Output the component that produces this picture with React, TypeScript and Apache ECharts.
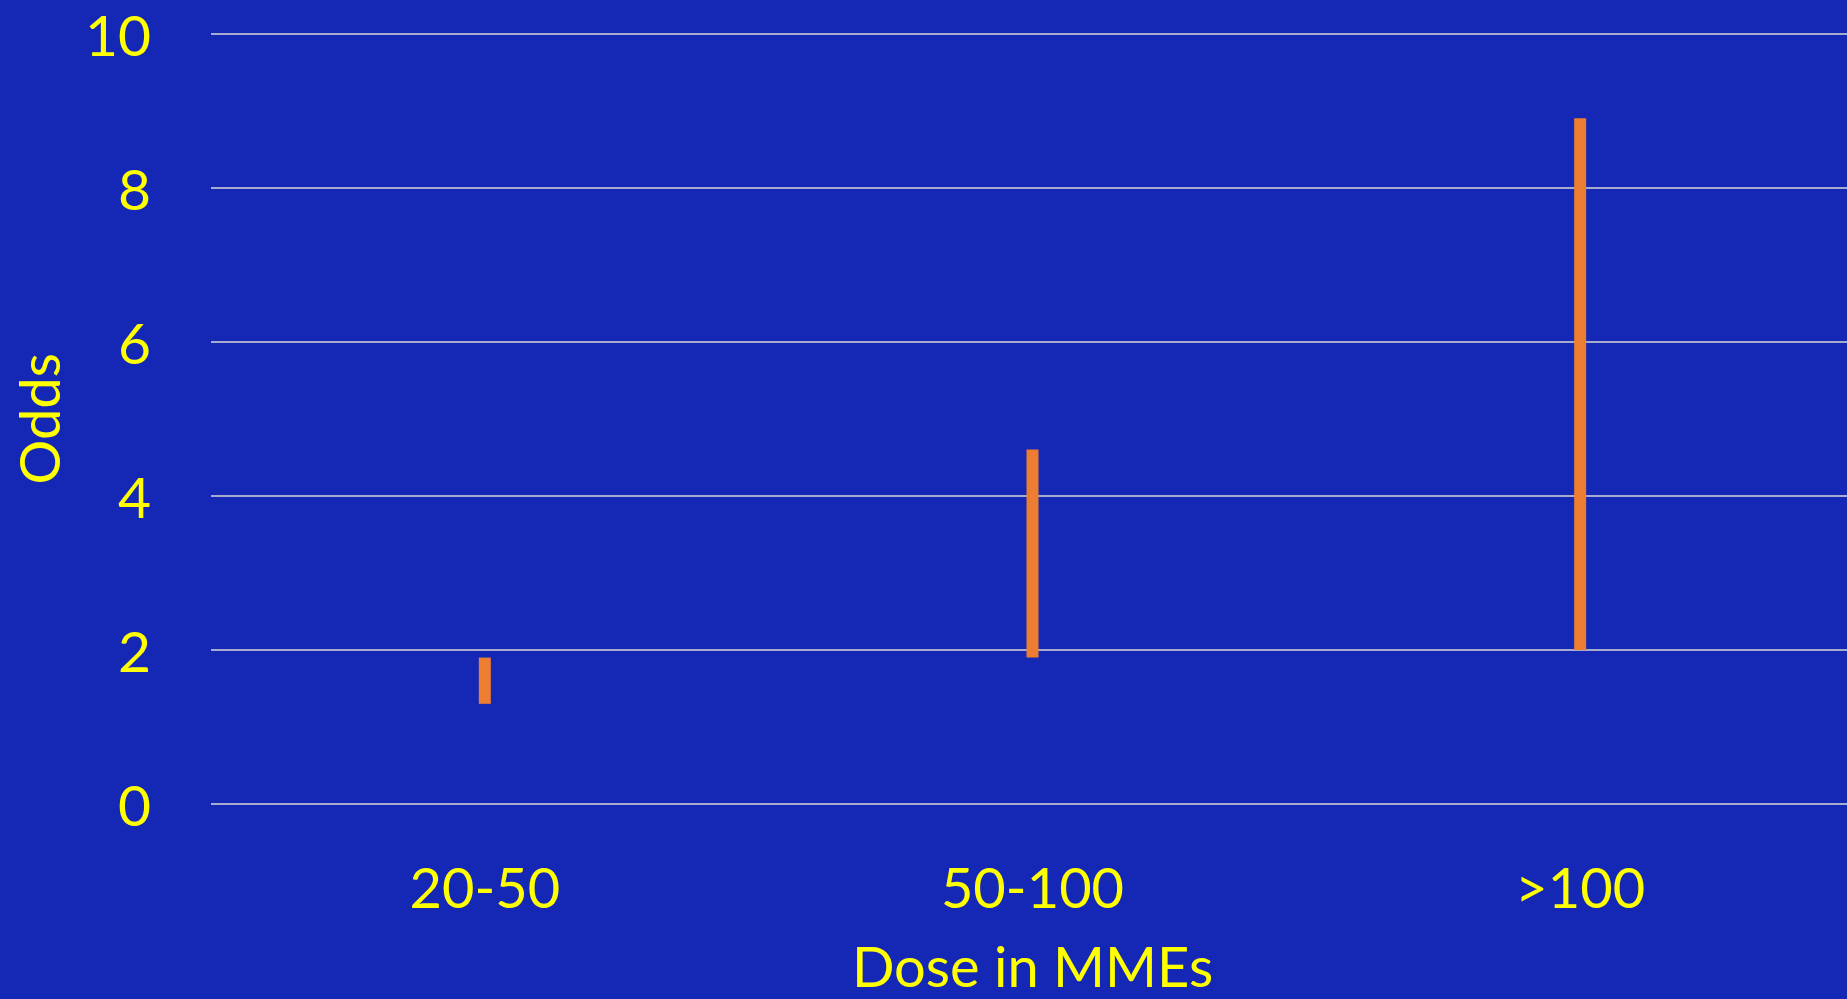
import React, { useEffect, useRef } from "react";
import * as echarts from "echarts";

const categories = ["20-50", "50-100", ">100"];
const lowValues = [1.3, 1.9, 2.0];
const highValues = [1.9, 4.6, 8.9];
const yTicks = [0, 2, 4, 6, 8, 10];

const FONT = "Lato";
const YELLOW = "#FFFF00";

export default function App() {
  const ref = useRef<HTMLDivElement>(null);
  useEffect(() => {
    if (!ref.current) return;
    const chart = echarts.init(ref.current, null, { renderer: "svg" });
    const spans = highValues.map((h, i) => +(h - lowValues[i]).toFixed(2));
    chart.setOption({
      animation: false,
      backgroundColor: "#1428B5",
      grid: {
        left: 211,
        width: 1643,
        top: 33.5,
        bottom: 195,
        containLabel: false,
        outerBoundsMode: "none",
      },
      xAxis: {
        type: "category",
        data: categories,
        name: "Dose in MMEs",
        nameLocation: "middle",
        nameGap: 136,
        nameTextStyle: { color: YELLOW, fontFamily: FONT, fontSize: 56, lineHeight: 50 },
        axisLine: { show: false },
        axisTick: { show: false },
        axisLabel: { color: YELLOW, fontFamily: FONT, fontSize: 56, margin: 54 },
      },
      yAxis: {
        type: "value",
        min: yTicks[0],
        max: yTicks[yTicks.length - 1],
        interval: 2,
        name: "Odds",
        nameLocation: "middle",
        nameGap: 145,
        nameTextStyle: { color: YELLOW, fontFamily: FONT, fontSize: 56 },
        axisLine: { show: false },
        axisTick: { show: false },
        axisLabel: { color: YELLOW, fontFamily: FONT, fontSize: 57, margin: 60 },
        splitLine: { show: true, lineStyle: { color: "#D9D9D9", width: 1.5 } },
      },
      series: [
        {
          type: "bar",
          stack: "range",
          data: lowValues,
          barWidth: 12,
          itemStyle: { color: "transparent" },
          silent: true,
        },
        {
          type: "bar",
          stack: "range",
          data: spans,
          barWidth: 12,
          itemStyle: { color: "#ED7D31" },
        },
      ],
    });
    return () => chart.dispose();
  }, []);
  return (
    <div
      ref={ref}
      style={{ position: "fixed", left: 0, top: 0, width: 1847, height: 999 }}
    />
  );
}
